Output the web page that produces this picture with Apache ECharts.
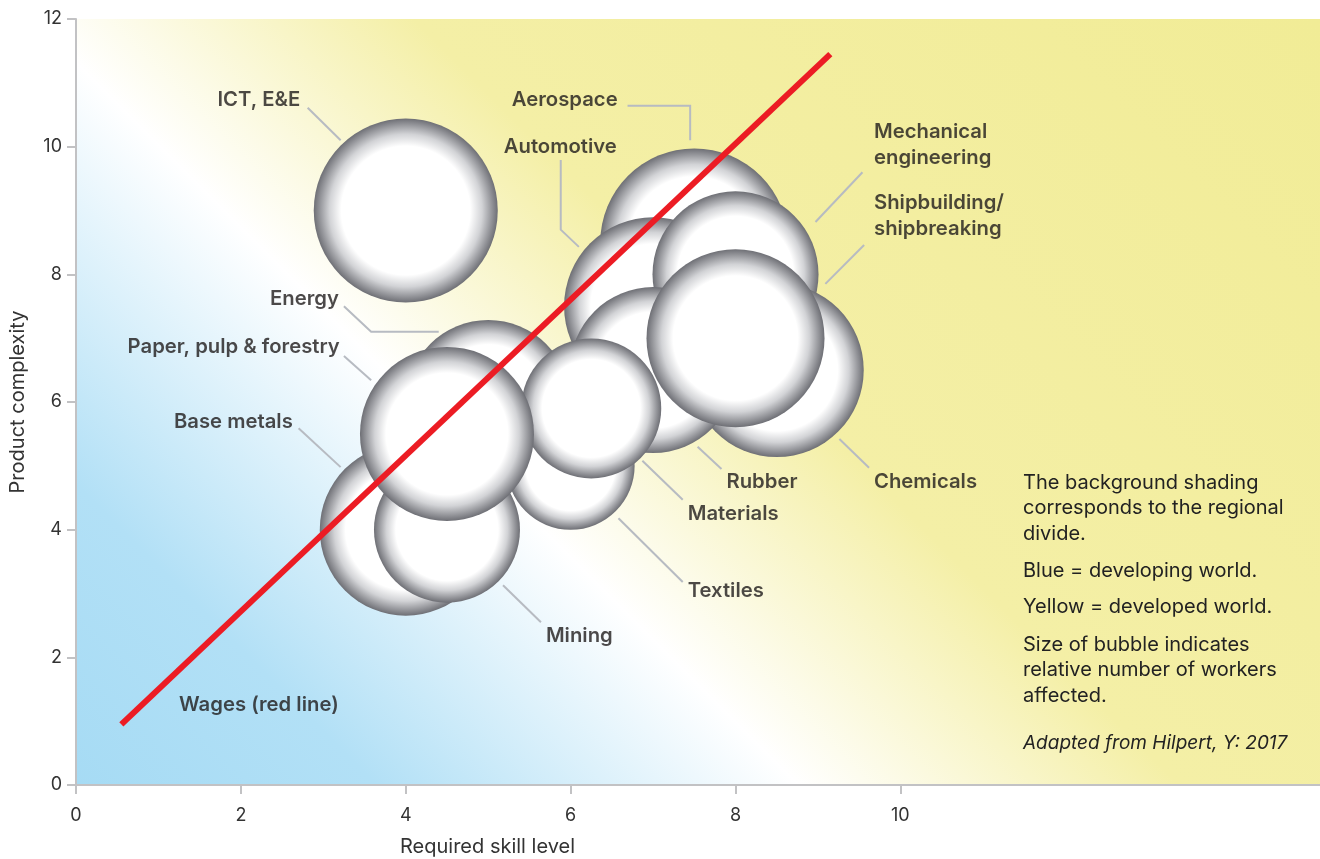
<!DOCTYPE html>
<html>
<head>
<meta charset="utf-8">
<script src="https://cdn.jsdelivr.net/npm/echarts@6/dist/echarts.min.js"></script>
<style>
html,body{margin:0;padding:0;background:#fff;}
#chart{width:1320px;height:859px;}
</style>
</head>
<body>
<div id="chart"></div>
<script>
// ---- data ----
const sectors = ['ICT, E&E','Aerospace','Automotive','Mechanical engineering','Chemicals','Rubber','Shipbuilding/shipbreaking','Energy','Textiles','Materials','Base metals','Mining','Paper, pulp & forestry'];
const skillLevel = [4, 7.5, 7, 8, 8.5, 7, 8, 5, 6, 6.25, 4, 4.5, 4.5];
const complexity = [9, 8.5, 7.5, 8, 6.5, 6.5, 7, 6, 5, 5.9, 4, 4, 5.5];
const workers = [92, 94, 89, 83, 87, 83, 89, 82, 64, 70, 86, 73, 87]; // relative
const wageSkill = [0.55, 9.15];
const wageLevel = [0.95, 11.45];
const xTicks = [0, 2, 4, 6, 8, 10];

// ---- annotation layout (data units) ----
const labelText = ['ICT, E&E','Aerospace','Automotive','Mechanical\nengineering','Shipbuilding/\nshipbreaking','Energy','Paper, pulp & forestry','Base metals','Rubber','Chemicals','Materials','Textiles','Mining','Wages (red line)'];
const labelAt = [[2.72,10.73,'right'],[6.57,10.73,'right'],[6.56,10.0,'right'],[9.68,10.03,'left'],[9.68,8.91,'left'],[3.19,7.61,'right'],[3.2,6.86,'right'],[2.63,5.69,'right'],[7.89,4.75,'left'],[9.68,4.75,'left'],[7.42,4.25,'left'],[7.42,3.04,'left'],[5.70,2.33,'left'],[1.25,1.25,'left']];
const leaders = [
  [[2.81,10.61],[3.21,10.10]],
  [[6.69,10.64],[7.45,10.64],[7.45,10.10]],
  [[5.88,9.79],[5.88,8.70],[6.10,8.43]],
  [[9.54,9.60],[8.97,8.82]],
  [[9.56,8.46],[9.09,7.85]],
  [[3.25,7.50],[3.58,7.10],[4.40,7.10]],
  [[3.25,6.72],[3.58,6.34]],
  [[2.70,5.59],[3.21,4.98]],
  [[7.54,5.30],[7.83,4.95]],
  [[9.26,5.42],[9.62,4.97]],
  [[6.87,5.08],[7.36,4.47]],
  [[6.58,4.18],[7.36,3.18]],
  [[5.18,3.13],[5.64,2.55]]
];

const chart = echarts.init(document.getElementById('chart'), null, {renderer:'canvas'});
const FONT = 'Inter, "Liberation Sans", sans-serif';

const bubbleData = sectors.map((s,i)=>({name:s, value:[skillLevel[i], complexity[i], workers[i]]}));
const labelData = labelText.map((t,i)=>({
  name:t, value:[labelAt[i][0], labelAt[i][1]],
  label:{align:labelAt[i][2]}
}));

const noteStyle = {fontSize:20, lineHeight:25.5, fill:'#222', fontFamily:FONT};

const option = {
  animation:false,
  grid:{left:75, right:0, top:19, bottom:74, show:true, borderWidth:0,
    backgroundColor:{type:'linear', global:true, x:75, y:785, x2:1080, y2:-220,
      colorStops:[
        {offset:0, color:'#a6dbf4'},
        {offset:0.15, color:'#b2e0f6'},
        {offset:0.36, color:'#ffffff'},
        {offset:0.55, color:'#f4efa6'},
        {offset:1, color:'#f1ec96'}
      ]}
  },
  xAxis:{type:'value', min:0, max:15.09, interval:2,
    axisLine:{show:true, onZero:false, lineStyle:{color:'#c2c2c4', width:2}},
    axisTick:{show:true, length:9, customValues:xTicks, lineStyle:{color:'#c2c2c4', width:2}},
    axisLabel:{customValues:xTicks, margin:22, fontSize:18, color:'#333', fontFamily:FONT},
    splitLine:{show:false}
  },
  yAxis:{type:'value', min:0, max:12, interval:2,
    name:'Product complexity', nameLocation:'middle', nameGap:48,
    nameTextStyle:{fontSize:20, color:'#333', fontFamily:FONT},
    axisLine:{show:true, lineStyle:{color:'#c2c2c4', width:2}},
    axisTick:{show:true, length:9, lineStyle:{color:'#c2c2c4', width:2}},
    axisLabel:{margin:14, fontSize:18, color:'#333', fontFamily:FONT},
    splitLine:{show:false}
  },
  graphic:[
    {type:'text', left:400, top:837, style:{text:'Required skill level', fontSize:20, fill:'#333', fontFamily:FONT}},
    {type:'text', left:1023, top:470, style:Object.assign({text:'The background shading\ncorresponds to the regional\ndivide.'}, noteStyle)},
    {type:'text', left:1023, top:558, style:Object.assign({text:'Blue = developing world.'}, noteStyle)},
    {type:'text', left:1023, top:594, style:Object.assign({text:'Yellow = developed world.'}, noteStyle)},
    {type:'text', left:1023, top:632, style:Object.assign({text:'Size of bubble indicates\nrelative number of workers\naffected.'}, noteStyle)},
    {type:'text', left:1023, top:731, style:Object.assign({text:'Adapted from Hilpert, Y: 2017', fontStyle:'italic'}, noteStyle, {fontSize:19})}
  ],
  series:[
    {type:'lines', coordinateSystem:'cartesian2d', polyline:true, silent:true, z:1,
      lineStyle:{color:'#b7bbc2', width:2, opacity:1},
      data:leaders.map(c=>({coords:c}))
    },
    {type:'scatter', z:2, silent:true,
      data:bubbleData,
      symbolSize:v=>v[2]*2,
      itemStyle:{opacity:1, color:{type:'radial', x:0.5, y:0.5, r:0.5, colorStops:[
        {offset:0, color:'#ffffff'},
        {offset:0.7, color:'#ffffff'},
        {offset:0.83, color:'#d2d3d6'},
        {offset:1, color:'#6e6f75'}
      ]}}
    },
    {type:'line', z:3, silent:true, symbol:'none',
      data:wageSkill.map((x,i)=>[x, wageLevel[i]]),
      lineStyle:{color:'#ec1c24', width:6, cap:'butt'}
    },
    {type:'scatter', z:4, silent:true, symbolSize:0,
      data:labelData,
      label:{show:true, position:[0,0], verticalAlign:'middle', formatter:p=>p.name,
        fontSize:20.3, fontWeight:600, color:'#1f1b1c', lineHeight:26, fontFamily:FONT}
    }
  ]
};
chart.setOption(option);
</script>
</body>
</html>
